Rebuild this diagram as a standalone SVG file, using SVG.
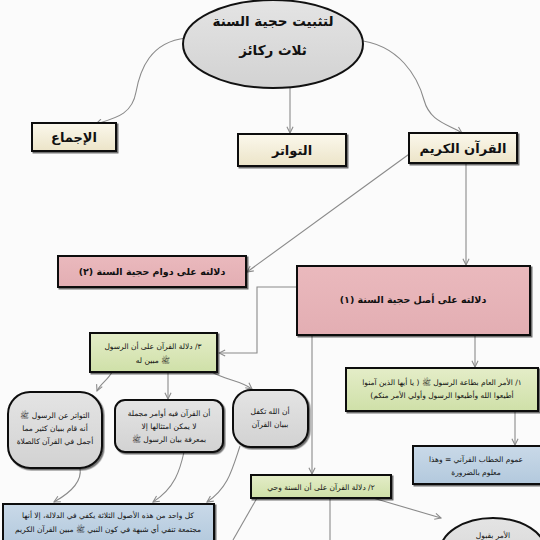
<svg xmlns="http://www.w3.org/2000/svg" width="540" height="540" viewBox="0 0 540 540">
<defs>
<marker id="arr" viewBox="0 0 10 10" refX="9" refY="5" markerWidth="7" markerHeight="7" orient="auto-start-reverse">
<path d="M1,1 L9,5 L1,9" fill="none" stroke="#8a8a8a" stroke-width="1.4"/>
</marker>
<filter id="sh" x="-10%" y="-10%" width="125%" height="130%">
<feDropShadow dx="1.5" dy="1.5" stdDeviation="0.6" flood-color="#000" flood-opacity="0.55"/>
</filter>
<linearGradient id="cream" x1="0" y1="0" x2="0" y2="1"><stop offset="0" stop-color="#fbf8ec"/><stop offset="1" stop-color="#ece4c8"/></linearGradient>
<linearGradient id="pink" x1="0" y1="0" x2="0" y2="1"><stop offset="0" stop-color="#eab9bd"/><stop offset="1" stop-color="#e3aeb3"/></linearGradient>
<linearGradient id="green" x1="0" y1="0" x2="0" y2="1"><stop offset="0" stop-color="#e4edc8"/><stop offset="1" stop-color="#cfe0a8"/></linearGradient>
<linearGradient id="blue" x1="0" y1="0" x2="0" y2="1"><stop offset="0" stop-color="#c9d9e8"/><stop offset="1" stop-color="#b3c9dd"/></linearGradient>
<linearGradient id="gray" x1="0" y1="0" x2="0" y2="1"><stop offset="0" stop-color="#e4e4e4"/><stop offset="1" stop-color="#d2d2d2"/></linearGradient>
</defs>
<style>
.box{stroke:#111;stroke-width:2;filter:url(#sh)}
.con{fill:none;stroke:#8a8a8a;stroke-width:1.1;marker-end:url(#arr)}
.ln{fill:none;stroke:#8a8a8a;stroke-width:1.1}
text{font-family:"DejaVu Sans",sans-serif;fill:#111;text-anchor:middle;direction:rtl;font-weight:bold}
.big{font-size:13.5px}
.mid{font-size:13px}
.sm{font-size:9.5px}
.xs{font-size:7.5px;font-weight:normal}
</style>
<rect width="540" height="540" fill="#fbfbfb"/>

<g id="connectors">
<path class="con" d="M186,38 C150,42 140,70 136,92 C132,115 115,118 96,124"/>
<path class="con" d="M290,88 V133"/>
<path class="con" d="M356,40 C400,44 418,78 424,100 C430,122 448,124 462,133"/>
<path class="con" d="M412,152 L247,272"/>
<path class="con" d="M466,163 V265"/>
<path class="con" d="M297,287 H257 V353 H219"/>
<path class="con" d="M475,335 V367"/>
<path class="con" d="M515,411 V445"/>
<path class="con" d="M312,335 V474"/>
<path class="con" d="M112,372 C108,380 100,384 97,391"/>
<path class="con" d="M168,372 V399"/>
<path class="con" d="M212,372 C225,380 240,380 252,389"/>
<path class="con" d="M80,468 C82,480 72,492 54,502"/>
<path class="con" d="M184,452 C180,470 175,488 153,502"/>
<path class="con" d="M240,446 C232,470 228,488 207,502"/>
<path class="ln" d="M257,498 L233,540"/>
<path class="ln" d="M330,498 V540"/>
<path class="con" d="M373,498 L441,518"/>
</g>

<g id="root">
<ellipse cx="273" cy="44" rx="90" ry="44" fill="url(#gray)" stroke="#111" stroke-width="2"/>
<text class="big" x="273" y="26">لتثبيت حجية السنة</text>
<text class="big" x="273" y="55">ثلاث ركائز</text>
</g>

<g id="ijma">
<rect class="box" x="32" y="123" width="84" height="28" fill="url(#cream)"/>
<text class="mid" x="74" y="142">الإجماع</text>
</g>

<g id="tawatur">
<rect class="box" x="238" y="134" width="108" height="32" fill="url(#cream)"/>
<text class="mid" x="292" y="155">التواتر</text>
</g>

<g id="quran">
<rect class="box" x="409" y="133" width="108" height="30" fill="url(#cream)"/>
<text class="mid" x="463" y="153">القرآن الكريم</text>
</g>

<g id="dawam">
<rect class="box" x="58" y="256" width="188" height="31" fill="url(#pink)"/>
<text class="sm" x="152" y="275">دلالته على دوام حجية السنة (٢)</text>
</g>

<g id="asl">
<rect class="box" x="297" y="266" width="233" height="69" fill="url(#pink)"/>
<text class="sm" x="413" y="303">دلالته على أصل حجية السنة (١)</text>
</g>

<g id="mubayyin">
<rect class="box" x="90" y="333" width="127" height="39" fill="url(#green)"/>
<text class="xs" x="153" y="349">٣/ دلالة القرآن على أن الرسول</text>
<text class="xs" x="153" y="363">ﷺ مبين له</text>
</g>

<g id="amr">
<rect class="box" x="346" y="368" width="192" height="43" fill="url(#green)"/>
<text class="xs" x="442" y="385">١/ الأمر العام بطاعة الرسول ﷺ ( يا أيها الذين آمنوا</text>
<text class="xs" x="442" y="398">أطيعوا الله وأطيعوا الرسول وأولي الأمر منكم)</text>
</g>

<g id="tawatur-bayan">
<rect class="box" x="8" y="392" width="94" height="76" rx="22" fill="url(#gray)"/>
<text class="xs" x="55" y="418">التواتر عن الرسول ﷺ</text>
<text class="xs" x="55" y="431">أنه قام ببيان كثير مما</text>
<text class="xs" x="55" y="444">أجمل في القرآن كالصلاة</text>
</g>

<g id="mujmal">
<rect class="box" x="115" y="400" width="108" height="52" rx="10" fill="url(#gray)"/>
<text class="xs" x="169" y="416">أن القرآن فيه أوامر مجملة</text>
<text class="xs" x="169" y="429">لا يمكن امتثالها إلا</text>
<text class="xs" x="169" y="442">بمعرفة بيان الرسول ﷺ</text>
</g>

<g id="takaffal">
<rect class="box" x="233" y="390" width="75" height="57" rx="18" fill="url(#gray)"/>
<text class="xs" x="270" y="414">أن الله تكفل</text>
<text class="xs" x="270" y="427">ببيان القرآن</text>
</g>

<g id="umum">
<rect class="box" x="413" y="446" width="130" height="38" fill="url(#blue)"/>
<text class="xs" x="476" y="462">عموم الخطاب القرآني = وهذا</text>
<text class="xs" x="476" y="475">معلوم بالضرورة</text>
</g>

<g id="wahy">
<rect class="box" x="251" y="475" width="140" height="23" fill="url(#green)"/>
<text class="xs" x="321" y="490">٢/ دلالة القرآن على أن السنة وحي</text>
</g>

<g id="kull">
<rect class="box" x="3" y="504" width="211" height="40" fill="url(#blue)"/>
<text class="xs" x="108" y="518">كل واحد من هذه الأصول الثلاثة يكفي في الدلالة، إلا أنها</text>
<text class="xs" x="108" y="532">مجتمعة تنفي أي شبهة في كون النبي ﷺ مبين القرآن الكريم</text>
</g>

<g id="qubul">
<ellipse cx="493" cy="552" rx="53" ry="34" fill="url(#gray)" stroke="#111" stroke-width="2"/>
<text class="xs" x="493" y="538">الأمر بقبول</text>
</g>
</svg>
